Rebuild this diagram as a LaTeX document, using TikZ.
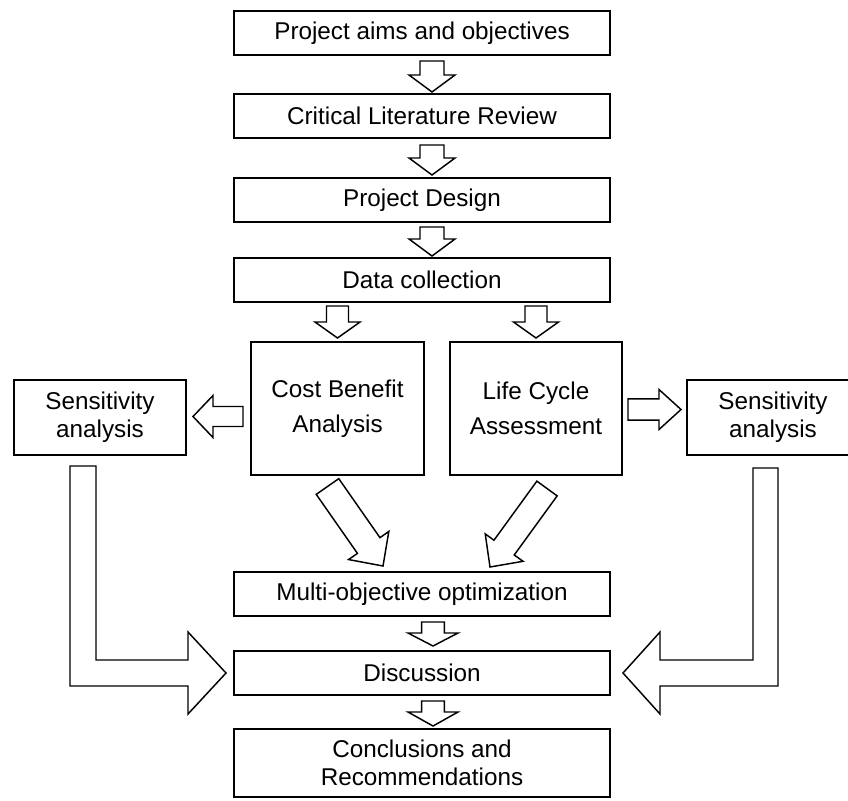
\documentclass[tikz,border=0pt]{standalone}
\usepackage{fontspec}
\setmainfont{Liberation Sans}
\usetikzlibrary{calc}

% Hollow block arrow from tail coordinate #1 to tip coordinate #2;
% #3 half shaft width, #4 half head width, #5 head length.
\newcommand\fatarrow[5]{%
  \coordinate (fahb) at ($(#2)!#5!(#1)$);
  \draw[arrowline] ($(#1)!#3!90:(#2)$) -- ($(fahb)!#3!90:(#2)$)
    -- ($(fahb)!#4!90:(#2)$) -- (#2) -- ($(fahb)!#4!-90:(#2)$)
    -- ($(fahb)!#3!-90:(#2)$) -- ($(#1)!#3!-90:(#2)$) -- cycle;
}

\tikzset{
  stagebox/.style={draw, line width=1.5pt, fill=white, inner sep=0pt, align=center,
    font=\fontsize{18.2}{21}\selectfont},
  widebox/.style={stagebox, minimum width=282pt, minimum height=33pt},
  arrowline/.style={draw, line width=1.1pt, fill=white, miter limit=20},
}

\begin{document}
\begin{tikzpicture}[x=0.75pt, y=-0.75pt]
\useasboundingbox (0,0) rectangle (848,800);
\clip (0,0) rectangle (848,800);

% main sequence of stages
\node[widebox] (aims)   at (422,33)  {Project aims and objectives};
\node[widebox] (review) at (422,116) {Critical Literature Review};
\node[widebox] (design) at (422,200) {Project Design};
\node[widebox] (data)   at (422,280) {Data collection};

% the two parallel analyses
\node[stagebox, minimum width=129.75pt, minimum height=99.75pt] (cba) at (337.5,408.5)
  {Cost Benefit\\[5pt]Analysis};
\node[stagebox, minimum width=129pt, minimum height=99.75pt] (lca) at (536,408.5)
  {Life Cycle\\[5pt]Assessment};

% sensitivity analyses on both sides
\node[stagebox, minimum width=129pt, minimum height=56.25pt] (sensl) at (100,417.5)
  {Sensitivity\\analysis};
\node[stagebox, minimum width=129pt, minimum height=56.25pt] (sensr) at (773,417.5)
  {Sensitivity\\analysis};

\node[widebox] (multi) at (422,594) {Multi-objective optimization};
\node[widebox] (disc)  at (422,673) {Discussion};
\node[stagebox, minimum width=282pt, minimum height=51pt] (conc) at (422,763)
  {Conclusions and\\Recommendations};

% arrow end points
\coordinate (t1) at ($(aims.south)+(10,5)$);
\coordinate (h1) at ($(review.north)+(10,-1)$);
\coordinate (t2) at ($(review.south)+(10,6)$);
\coordinate (h2) at ($(design.north)+(10,-2)$);
\coordinate (t3) at ($(design.south)+(10,4)$);
\coordinate (h3) at ($(data.north)+(10,-1)$);
\coordinate (t4) at ($(cba.north)+(0,-35)$);
\coordinate (h4) at ($(cba.north)+(0,-3)$);
\coordinate (t5) at ($(lca.north)+(0,-35)$);
\coordinate (h5) at ($(lca.north)+(0,-3)$);
\coordinate (t6) at ($(cba.west)+(-7,8)$);
\coordinate (h6) at ($(sensl.east)+(6,-1)$);
\coordinate (t7) at ($(lca.east)+(5,1)$);
\coordinate (h7) at ($(sensr.west)+(-5,-8)$);
\coordinate (t8) at ($(cba.south)+(-10,10.5)$);
\coordinate (h8) at ($(multi.north)+(-39,-5)$);
\coordinate (t9) at ($(lca.south)+(11,12.5)$);
\coordinate (h9) at ($(multi.north)+(68,-4)$);
\coordinate (t10) at ($(multi.south)+(11,5)$);
\coordinate (h10) at ($(disc.north)+(11,-4)$);
\coordinate (t11) at ($(disc.south)+(11,5)$);
\coordinate (h11) at ($(conc.north)+(11,-2)$);

\fatarrow{t1}{h1}{9pt}{17.25pt}{12.75pt}
\fatarrow{t2}{h2}{9pt}{17.25pt}{12.75pt}
\fatarrow{t3}{h3}{9pt}{17.25pt}{12.75pt}
\fatarrow{t4}{h4}{8.25pt}{16.9pt}{12pt}
\fatarrow{t5}{h5}{8.25pt}{16.9pt}{12pt}
\fatarrow{t6}{h6}{7.5pt}{15.75pt}{15pt}
\fatarrow{t7}{h7}{7.9pt}{15pt}{16.5pt}
\fatarrow{t8}{h8}{10.3pt}{18.4pt}{18.75pt}
\fatarrow{t9}{h9}{9.4pt}{17.5pt}{18pt}
\fatarrow{t10}{h10}{8.6pt}{18.75pt}{9.75pt}
\fatarrow{t11}{h11}{8.6pt}{18.75pt}{10.5pt}

% L-shaped arrows from the sensitivity analyses into the discussion
\coordinate (ltip) at ($(disc.west)+(-7,0)$);
\coordinate (rtip) at ($(disc.east)+(12,0)$);
\draw[arrowline] (ltip) -- ++(-38,-41) -- ++(0,28) -- ++(-92,0) -- ++(0,-194)
  -- ++(-26,0) -- ++(0,220) -- ++(118,0) -- ++(0,28) -- cycle;
\draw[arrowline] (rtip) -- ++(37,-41) -- ++(0,28) -- ++(93,0) -- ++(0,-192)
  -- ++(25,0) -- ++(0,218) -- ++(-118,0) -- ++(0,28) -- cycle;
\end{tikzpicture}
\end{document}
